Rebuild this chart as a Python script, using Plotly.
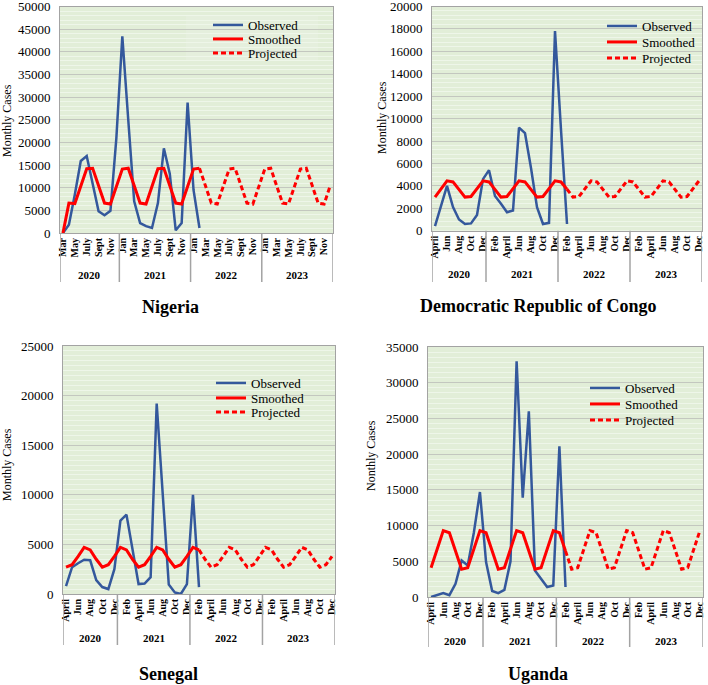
import plotly.graph_objects as go

W, H = 708, 685
FONT = "Liberation Serif, Times New Roman, Times, serif"
BLUE = "#34589c"
RED = "#ff0000"
BG = "#e2eed8"
STRIPE = "#eef6e9"
GRID = "#c3c7bf"
AXIS = "#a3a3a3"

# ------------------------------------------------------------------ data
YEARS = ["2020", "2021", "2022", "2023"]
SERIES_NAMES = ["Observed", "Smoothed", "Projected"]

nigeria_months = (["Mar", "Apr", "May", "Jun", "July", "Aug", "Sept", "Oct", "Nov", "Dec"]
                  + ["Jan", "Feb", "Mar", "Apr", "May", "Jun", "July", "Aug", "Sept", "Oct", "Nov", "Dec"] * 3)
nigeria_year_counts = [10, 12, 12, 12]
nigeria_observed = [0, 1800, 8500, 15900, 17000, 10500, 4800, 3900, 4900, 21000, 43400, 25000,
                    7000, 2200, 1500, 1100, 6600, 18700, 13100, 600, 2200, 28800, 9500, 1100]
nigeria_smoothed = [0, 6600, 6500, 10400, 14200, 14300, 10400, 6600, 6400, 10300, 14100, 14300,
                    10400, 6600, 6400, 10300, 14200, 14300, 10400, 6600, 6400, 10300, 14100, 14300]
nigeria_projected_start = 23
nigeria_projected = [14300, 10400, 6600, 6400, 10300, 14100, 14300, 10400, 6600, 6400, 10300, 14100,
                     14300, 10400, 6600, 6400, 10300, 14100, 14300, 10400, 6600, 6400, 10300]

other_months = (["April", "May", "Jun", "Jul", "Aug", "Sep", "Oct", "Nov", "Dec"]
                + ["Jan", "Feb", "Mar", "April", "May", "Jun", "Jul", "Aug", "Sep", "Oct", "Nov", "Dec"] * 3)
other_year_counts = [9, 12, 12, 12]

drc_observed = [400, 2200, 4000, 2100, 1000, 600, 650, 1400, 4600, 5400, 3100, 2400,
                1650, 1800, 9200, 8700, 5600, 2100, 600, 700, 17800, 9000, 600]
drc_smoothed = [3000, 3750, 4450, 4350, 3700, 3000, 3050, 3750, 4450, 4350, 3700, 3000,
                3050, 3750, 4450, 4350, 3700, 3000, 3050, 3750, 4450, 4350, 3700]
drc_projected_start = 22
drc_projected = [3700, 3000, 3050, 3750, 4450, 4350, 3700, 3000, 3050, 3750, 4450, 4350,
                 3700, 3000, 3050, 3750, 4450, 4350, 3700, 3000, 3050, 3750, 4450]

senegal_observed = [800, 2700, 3100, 3450, 3400, 1400, 700, 500, 2500, 7400, 8000, 4500,
                    1000, 1050, 1700, 19200, 10000, 950, 150, 0, 1000, 10000, 700]
senegal_smoothed = [2700, 2950, 3800, 4700, 4450, 3500, 2700, 2950, 3800, 4700, 4450, 3500,
                    2700, 2950, 3800, 4700, 4450, 3500, 2700, 2950, 3800, 4700, 4450]
senegal_projected_start = 22
senegal_projected = [4450, 3500, 2700, 2950, 3800, 4700, 4450, 3500, 2700, 2950, 3800, 4700,
                     4450, 3500, 2700, 2950, 3800, 4700, 4450, 3500, 2700, 2950, 3800]

uganda_observed = [0, 300, 550, 250, 1850, 5100, 4400, 9000, 14700, 4900, 850, 550,
                   1000, 5000, 33000, 13900, 26000, 3700, 2600, 1400, 1600, 21100, 1400]
uganda_smoothed = [4100, 6700, 9300, 9000, 6450, 3900, 4100, 6700, 9300, 9000, 6450, 3900,
                   4100, 6700, 9300, 9000, 6450, 3900, 4100, 6700, 9300, 9000, 6450]
uganda_projected_start = 22
uganda_projected = [6450, 3900, 4100, 6700, 9300, 9000, 6450, 3900, 4100, 6700, 9300, 9000,
                    6450, 3900, 4100, 6700, 9300, 9000, 6450, 3900, 4100, 6700, 9300]

# ------------------------------------------------------------------ layout (pixels)
panels = [
    dict(title="Nigeria", ytitle="Monthly Cases", months=nigeria_months, counts=nigeria_year_counts,
         obs=nigeria_observed, sm=nigeria_smoothed, proj=nigeria_projected, pstart=nigeria_projected_start,
         ymax=50000, dtick=5000, minor=1000,
         box=(60, 333, 6.5, 233), year_y=275, sep_y=282, title_xy=(170, 307), ytitle_xy=(7, 121),
         legend_x=208, legend_rows=(25, 39, 53), legend_box=(186, 318, 15, 60)),
    dict(title="Democratic Republic of Congo", ytitle="Monthly Cases", months=other_months, counts=other_year_counts,
         obs=drc_observed, sm=drc_smoothed, proj=drc_projected, pstart=drc_projected_start,
         ymax=20000, dtick=2000, minor=400,
         box=(432, 702, 6.5, 230.7), year_y=274, sep_y=282, title_xy=(538, 306), ytitle_xy=(382, 118),
         legend_x=602, legend_rows=(26, 42, 58), legend_box=None),
    dict(title="Senegal", ytitle="Monthly Cases", months=other_months, counts=other_year_counts,
         obs=senegal_observed, sm=senegal_smoothed, proj=senegal_projected, pstart=senegal_projected_start,
         ymax=25000, dtick=5000, minor=500,
         box=(63, 335, 346, 594), year_y=638, sep_y=645, title_xy=(168, 674), ytitle_xy=(7, 465),
         legend_x=211, legend_rows=(383, 398, 412), legend_box=None),
    dict(title="Uganda", ytitle="Nonthly Cases", months=other_months, counts=other_year_counts,
         obs=uganda_observed, sm=uganda_smoothed, proj=uganda_projected, pstart=uganda_projected_start,
         ymax=35000, dtick=5000, minor=5000 / 7,
         box=(428, 703, 347, 597), year_y=641, sep_y=647, title_xy=(538, 674), ytitle_xy=(371, 456),
         legend_x=585, legend_rows=(388, 404, 420), legend_box=None),
]


def px(x):
    return x / W


def py(y):
    return 1 - y / H


fig = go.Figure()
shapes, annotations = [], []
layout = dict(width=W, height=H, margin=dict(l=0, r=0, t=0, b=0, autoexpand=False), autosize=False,
              paper_bgcolor="white", plot_bgcolor=BG,
              font=dict(family=FONT, color="black"), showlegend=True)

legend_no = 0
for k, p in enumerate(panels, start=1):
    sfx = "" if k == 1 else str(k)
    xa, ya = "x" + sfx, "y" + sfx
    n = len(p["months"])
    x0, x1, y0, y1 = p["box"]

    series = [
        (list(range(len(p["obs"]))), p["obs"], dict(color=BLUE, width=2.5)),
        (list(range(len(p["sm"]))), p["sm"], dict(color=RED, width=3)),
        (list(range(p["pstart"], p["pstart"] + len(p["proj"]))), p["proj"],
         dict(color=RED, width=3, dash="5px,3px")),
    ]
    for (xs, ys, ln), name, row_y in zip(series, SERIES_NAMES, p["legend_rows"]):
        legend_no += 1
        lg = "legend" if legend_no == 1 else "legend%d" % legend_no
        fig.add_trace(go.Scatter(x=xs, y=ys, mode="lines", name=name, line=ln,
                                 xaxis=xa, yaxis=ya, legend=lg))
        layout[lg] = dict(x=px(p["legend_x"]), y=py(row_y), xanchor="left", yanchor="middle",
                          bgcolor="rgba(0,0,0,0)", borderwidth=0,
                          font=dict(family=FONT, size=13, color="black"))

    layout["xaxis" + sfx] = dict(
        domain=[px(x0), px(x1)], anchor=ya, range=[-0.5, n - 0.5],
        tickmode="array", tickvals=list(range(0, n, 2)), ticktext=p["months"][0::2],
        tickangle=-90, tickfont=dict(family=FONT, size=10, weight="bold", color="black"),
        ticklabeloverflow="allow",
        showgrid=False, zeroline=False, showline=True, linecolor=AXIS, linewidth=1, mirror=True,
        ticks="", fixedrange=True)
    layout["yaxis" + sfx] = dict(
        domain=[py(y1), py(y0)], anchor=xa, range=[0, p["ymax"]], dtick=p["dtick"], tick0=0,
        tickformat="d", ticklabeloverflow="allow",
        tickfont=dict(family=FONT, size=13, color="black"), ticklabelstandoff=6,
        showgrid=True, gridcolor=GRID, gridwidth=1.2, zeroline=False,
        showline=True, linecolor=AXIS, linewidth=1, mirror=True, ticks="",
        minor=dict(dtick=p["minor"], tick0=0, showgrid=True, gridcolor=STRIPE, gridwidth=1),
        fixedrange=True)

    if p["legend_box"]:
        bx0, bx1, by0, by1 = p["legend_box"]
        shapes.append(dict(type="rect", xref="paper", yref="paper", x0=px(bx0), x1=px(bx1),
                           y0=py(by1), y1=py(by0), fillcolor="#e5efdd", line=dict(width=0),
                           layer="between"))

    # year group separators and labels
    bounds = [-0.5]
    for c in p["counts"]:
        bounds.append(bounds[-1] + c)
    for b in bounds:
        shapes.append(dict(type="line", xref=xa, yref="paper", x0=b, x1=b,
                           y0=py(y1), y1=py(p["sep_y"]), line=dict(color=AXIS, width=1.5)))
    for yr, a, b in zip(YEARS, bounds[:-1], bounds[1:]):
        annotations.append(dict(text="<b>%s</b>" % yr, x=(a + b) / 2, xref=xa, y=py(p["year_y"]),
                                yref="paper", showarrow=False, xanchor="center", yanchor="middle",
                                font=dict(family=FONT, size=11, color="black")))
    annotations.append(dict(text="<b>%s</b>" % p["title"], x=px(p["title_xy"][0]), y=py(p["title_xy"][1]),
                            xref="paper", yref="paper", showarrow=False, xanchor="center", yanchor="middle",
                            font=dict(family=FONT, size=18, color="black")))
    annotations.append(dict(text=p["ytitle"], x=px(p["ytitle_xy"][0]), y=py(p["ytitle_xy"][1]),
                            xref="paper", yref="paper", showarrow=False, textangle=-90,
                            xanchor="center", yanchor="middle",
                            font=dict(family=FONT, size=12, color="black")))

layout["shapes"] = shapes
layout["annotations"] = annotations
fig.update_layout(**layout)
fig.write_html("out.html", config={"displayModeBar": False},
               post_script="document.body.style.margin='0px';document.body.style.overflow='hidden';")
